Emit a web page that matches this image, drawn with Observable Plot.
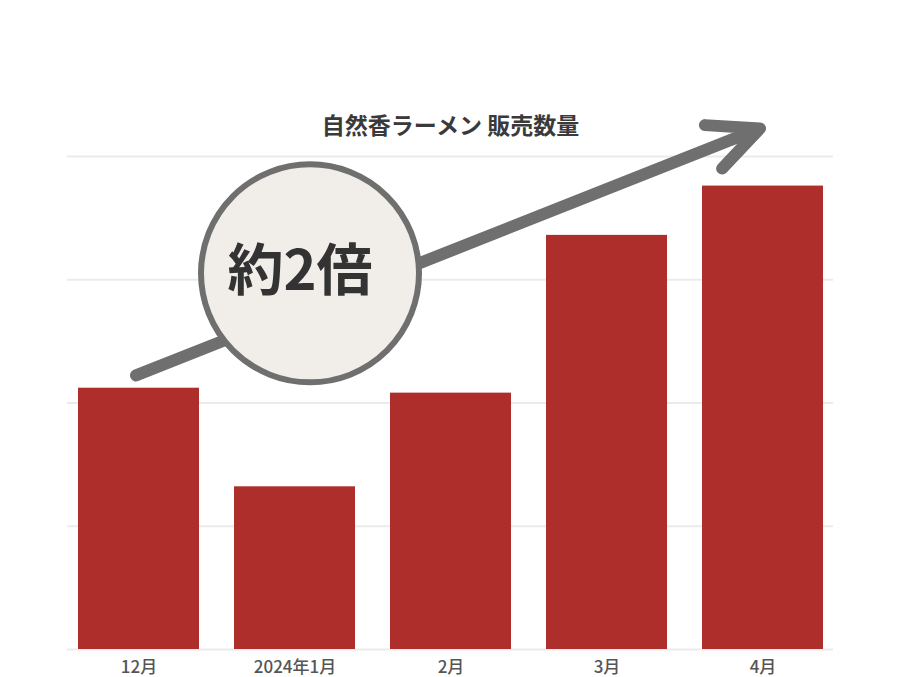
<!DOCTYPE html>
<html><head><meta charset="utf-8">
<script src="https://cdn.jsdelivr.net/npm/d3@7"></script>
<script src="https://cdn.jsdelivr.net/npm/@observablehq/plot@0.6"></script>
<style>
html,body{margin:0;padding:0;background:#fff;}
#chart svg{display:block;}
</style>
</head><body>
<div id="chart"></div>
<script>
const months = ["12月", "2024年1月", "2月", "3月", "4月"];
const sales = [53, 33, 52, 84, 94];
const yTicks = [0, 25, 50, 75, 100];
const title = "自然香ラーメン 販売数量";
const badgeText = "約2倍";
const arrowMonths = ["12月", "4月"];
const arrowValues = [55.6, 105.7];
const badgeMonth = "2024年1月";
const badgeValue = 76.3;

const rows = months.map((m, i) => ({month: m, value: sales[i]}));
const arrowRow = [{x1: arrowMonths[0], y1: arrowValues[0], x2: arrowMonths[1], y2: arrowValues[1]}];
const badgeRow = [{month: badgeMonth, value: badgeValue, label: badgeText}];

const font = "'Noto Sans CJK JP', 'Noto Sans', sans-serif";

const chart = Plot.plot({
  width: 901,
  height: 677,
  marginTop: 156,
  marginBottom: 28,
  marginLeft: 67,
  marginRight: 68,
  style: {fontFamily: font, background: "#fff", overflow: "visible"},
  x: {domain: months, padding: 0.227, insetLeft: -25.5, insetRight: -26.5, label: null, tickSize: 0, tickPadding: 10},
  y: {domain: [0, 100], axis: null},
  marks: [
    Plot.ruleY(yTicks, {stroke: "#ebebeb", strokeWidth: 2}),
    Plot.barY(rows, {x: "month", y: "value", fill: "#ad2e2b"}),
    Plot.axisX({tickSize: 0, tickPadding: 11, fontSize: 17, fill: "#555", fontWeight: 500, label: null}),
    Plot.arrow(arrowRow, {x1: "x1", y1: "y1", x2: "x2", y2: "y2", dx: -3, stroke: "#6f6f6f", strokeWidth: 12, headLength: 6.9, headAngle: 50, strokeLinecap: "round", strokeLinejoin: "round"}),
    Plot.dot(badgeRow, {x: "month", y: "value", dx: 15, r: 109, fill: "#f1eeea", stroke: "#6f6f6f", strokeWidth: 6}),
    Plot.text(badgeRow, {x: "month", y: "value", dx: 5, dy: -1, text: "label", fontSize: 56, fontWeight: 700, fill: "#333", fontFamily: font}),
    Plot.text([title], {frameAnchor: "top", dy: -30, text: d => d, fontSize: 23, fontWeight: "bold", fill: "#3a3a3a", fontFamily: font, lineAnchor: "middle"})
  ]
});
document.getElementById("chart").appendChild(chart);
</script>
</body></html>
